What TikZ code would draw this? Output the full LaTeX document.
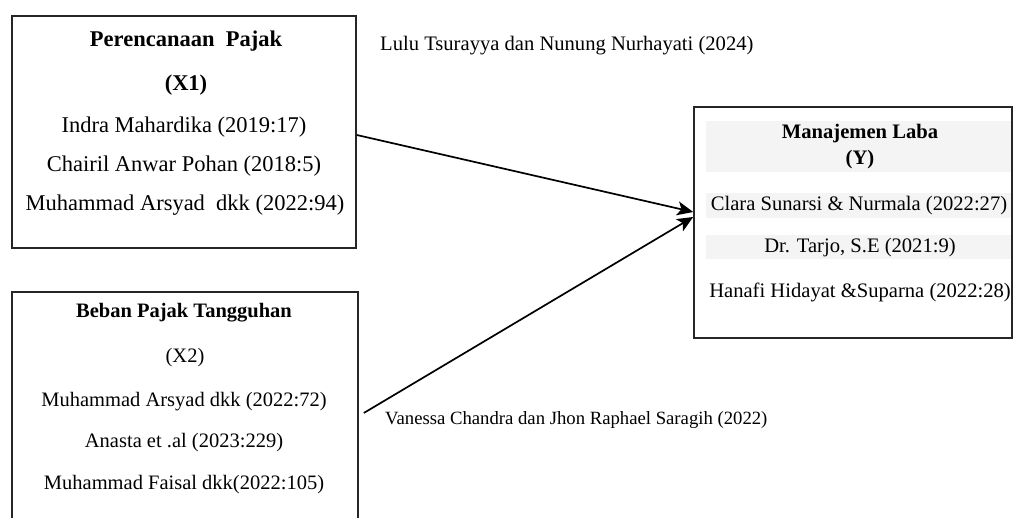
\documentclass[tikz,border=0pt]{standalone}
\usepackage{fontspec}
\setmainfont{Liberation Serif}
\usetikzlibrary{arrows.meta,calc}
\definecolor{band}{HTML}{F4F4F4}
\tikzset{
  box/.style={draw=black!85, line width=1.6pt, rectangle, inner sep=0pt},
  tA/.style={font=\fontsize{22.5}{26}\selectfont, inner sep=0pt},
  tB/.style={font=\fontsize{20.5}{24}\selectfont, inner sep=0pt},
  tY/.style={font=\fontsize{20.6}{24}\selectfont, inner sep=0pt},
  lbl/.style={font=\fontsize{20.6}{24}\selectfont, inner sep=0pt},
  lblsmall/.style={font=\fontsize{18.7}{22}\selectfont, inner sep=0pt},
  arr/.style={line width=1.7pt, -{Stealth[length=16pt,width=14pt,inset=4pt]}},
}
\begin{document}
\begin{tikzpicture}[x=1pt,y=-1pt]
\useasboundingbox (0,0) rectangle (1014,518);
\clip (0,0) rectangle (1014,518);
% bands
\fill[band] (706,121) rectangle (1011,172);
\fill[band] (706,193) rectangle (1011,218);
\fill[band] (706,235) rectangle (1011,259);
% boxes
\node[box, minimum width=344pt, minimum height=232pt] (x1) at (184,132) {};
\node[box, minimum width=346pt, minimum height=240pt] (x2) at (185,412) {};
\node[box, minimum width=318pt, minimum height=231pt] (y) at (853,222.5) {};
% box 1 text
\node[tA] (x1a) at (186,41) {\textbf{Perencanaan\ \ Pajak}};
\node[tA] (x1b) at (186,85) {\textbf{(X1)}};
\node[tA] (x1c) at (184,127) {Indra Mahardika (2019:17)};
\node[tA] (x1d) at (184,166) {Chairil Anwar Pohan (2018:5)};
\node[tA] (x1e) at (185,205) {Muhammad Arsyad\ \ dkk (2022:94)};
% box 2 text
\node[tB] (x2a) at (184,313) {\textbf{Beban Pajak Tangguhan}};
\node[tB] (x2b) at (185,358) {(X2)};
\node[tB] (x2c) at (184,402) {Muhammad Arsyad dkk (2022:72)};
\node[tB] (x2d) at (184,443) {Anasta et .al (2023:229)};
\node[tB] (x2e) at (184,485) {Muhammad Faisal dkk(2022:105)};
% box Y text
\node[tY] (ya) at (860,134) {\textbf{Manajemen Laba}};
\node[tY] (yb) at (860,160) {\textbf{(Y)}};
\node[tY] (yc) at (859,206) {Clara Sunarsi \& Nurmala (2022:27)};
\node[tY] (yd) at (860,248) {Dr. Tarjo, S.E (2021:9)};
\node[tY] (ye) at (860,292) {Hanafi Hidayat \&Suparna (2022:28)};
% labels
\node[lbl, anchor=west] (l1) at (380,46) {Lulu Tsurayya dan Nunung Nurhayati (2024)};
\node[lblsmall, anchor=west] (l2) at (385,420) {Vanessa Chandra dan Jhon Raphael Saragih (2022)};
% arrows
\coordinate (s1) at ([yshift=-3pt]x1.east);
\coordinate (e1) at ([yshift=10.5pt]y.west);
\coordinate (s2) at ([xshift=5pt,yshift=-1pt]x2.east);
\coordinate (e2) at ([yshift=5.5pt]y.west);
\draw[arr] (s1) -- (e1);
\draw[arr] (s2) -- (e2);
\end{tikzpicture}
\end{document}
